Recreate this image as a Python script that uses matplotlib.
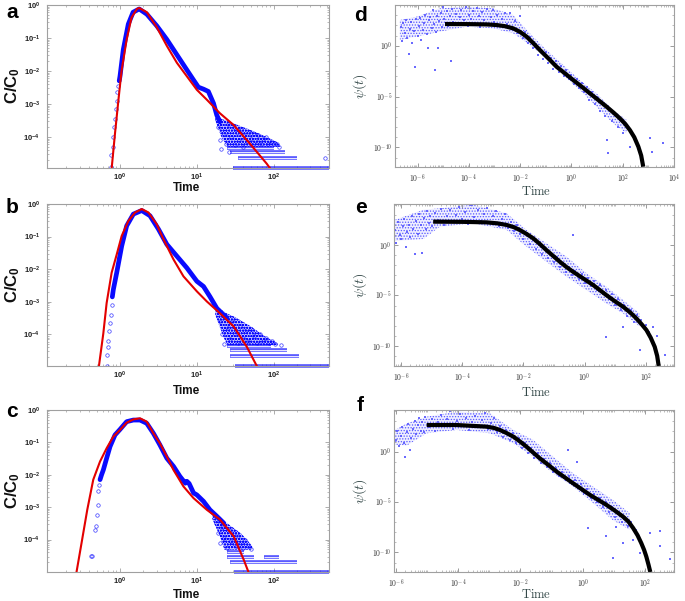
import numpy as np
import matplotlib
matplotlib.use('Agg')
import matplotlib.pyplot as plt
from matplotlib.ticker import LogLocator, NullFormatter

plt.rcParams['font.family'] = ['Liberation Sans', 'DejaVu Sans']
plt.rcParams['mathtext.fontset'] = 'custom'
plt.rcParams['mathtext.rm'] = 'Liberation Sans:bold'
plt.rcParams['mathtext.bf'] = 'Liberation Sans:bold'
plt.rcParams['mathtext.it'] = 'Liberation Sans:bold:italic'
plt.rcParams['hatch.linewidth'] = 0.6

# ---- all values are log10 ----
# panel a
a_fit_t = [-0.108, -0.065, -0.02, 0.02, 0.087, 0.15, 0.22, 0.25, 0.35, 0.48, 0.61, 0.74, 0.87, 1.0, 1.13, 1.30, 1.48, 1.69, 1.91, 1.95]
a_fit_c = [-4.94, -3.89, -2.87, -2.0, -1.04, -0.38, -0.12, -0.09, -0.22, -0.68, -1.24, -1.75, -2.16, -2.57, -2.87, -3.28, -3.64, -4.2, -4.81, -4.94]
a_band_t = [-0.01, 0.0, 0.043, 0.108, 0.17, 0.25, 0.35, 0.478, 0.608, 0.738, 0.868, 0.956, 1.02, 1.087, 1.15, 1.217, 1.26, 1.30]
a_band_c = [-2.3, -2.16, -1.35, -0.58, -0.22, -0.12, -0.28, -0.63, -1.04, -1.5, -1.96, -2.27, -2.49, -2.55, -2.62, -2.98, -3.34, -3.54]
a_circ = [(-0.117, -4.9), (-0.112, -4.55), (-0.095, -4.3), (-0.085, -4.0), (-0.075, -3.7), (-0.065, -3.45),
          (-0.055, -3.15), (-0.045, -2.9), (-0.035, -2.65), (-0.02, -2.45),
          (1.28, -3.7), (1.3, -4.1), (1.32, -4.35), (1.35, -3.9), (1.38, -4.2), (1.4, -3.6), (1.42, -4.45),
          (1.45, -4.0), (1.48, -3.7), (1.5, -4.25), (1.52, -3.85), (1.55, -4.1), (1.58, -3.75), (1.6, -4.3),
          (1.62, -3.95), (1.65, -4.15), (1.68, -3.85), (1.7, -4.05), (1.72, -4.25), (1.75, -3.9), (1.78, -4.15),
          (1.8, -3.95), (1.83, -4.2), (1.86, -4.05), (1.9, -4.0), (1.93, -4.2), (1.97, -4.15), (2.0, -4.22),
          (2.04, -4.2), (2.07, -4.3), (2.67, -4.64)]
a_cloud_t = [1.24, 1.32, 1.40, 1.48, 1.70, 1.91, 2.04, 2.08]
a_cloud_up = [-3.2, -3.45, -3.52, -3.59, -3.79, -4.0, -4.15, -4.25]
a_cloud_lo = [-3.5, -4.0, -4.3, -4.3, -4.3, -4.3, -4.3, -4.3]
a_stripe_k = [1, 2, 3, 4]
a_stripe_t0 = [1.47, 1.54, 1.43, 1.39]
a_stripe_t1 = [2.72, 2.30, 2.15, 2.0]
a_ybot = 1.15e-5

# panel b
b_fit_t = [-0.274, -0.217, -0.174, -0.109, -0.043, 0.022, 0.109, 0.196, 0.283, 0.37, 0.478, 0.565, 0.696, 0.826, 1.0, 1.13, 1.30, 1.48, 1.65, 1.78]
b_fit_c = [-4.97, -3.97, -3.04, -2.11, -1.55, -0.98, -0.52, -0.26, -0.155, -0.26, -0.62, -1.08, -1.70, -2.22, -2.68, -2.99, -3.35, -3.76, -4.38, -4.97]
b_band_t = [-0.1, -0.087, -0.043, 0.022, 0.087, 0.174, 0.283, 0.39, 0.5, 0.61, 0.74, 0.87, 1.0, 1.087, 1.17, 1.26, 1.39]
b_band_c = [-2.85, -2.63, -2.11, -1.29, -0.67, -0.31, -0.2, -0.36, -0.77, -1.24, -1.6, -1.96, -2.37, -2.53, -2.84, -3.2, -3.5]
b_circ = [(-0.17, -4.97), (-0.17, -4.64), (-0.16, -4.4), (-0.15, -4.2), (-0.14, -3.9), (-0.13, -3.66),
          (-0.12, -3.4), (-0.11, -3.1),
          (1.3, -3.6), (1.33, -4.0), (1.36, -4.3), (1.4, -3.8), (1.43, -4.15), (1.46, -3.6), (1.5, -4.0),
          (1.53, -4.25), (1.56, -3.75), (1.6, -4.1), (1.63, -3.9), (1.67, -4.2), (1.7, -3.85), (1.74, -4.05),
          (1.78, -4.25), (1.82, -4.0), (1.86, -4.2), (1.9, -4.1), (1.94, -4.25), (1.98, -4.2), (2.02, -4.3),
          (2.1, -4.33)]
b_cloud_t = [1.24, 1.35, 1.40, 1.48, 1.70, 1.91, 2.0, 2.05]
b_cloud_up = [-3.1, -3.3, -3.37, -3.45, -3.75, -4.1, -4.2, -4.28]
b_cloud_lo = [-3.4, -4.1, -4.33, -4.33, -4.33, -4.33, -4.33, -4.33]
b_stripe_k = [1, 2, 3, 4]
b_stripe_t0 = [1.5, 1.43, 1.43, 1.39]
b_stripe_t1 = [2.72, 2.33, 2.17, 1.96]
b_ybot = 1.07e-5

# panel c
c_fit_t = [-0.565, -0.5, -0.426, -0.348, -0.26, -0.174, -0.087, 0.0, 0.087, 0.174, 0.26, 0.348, 0.435, 0.52, 0.61, 0.696, 0.826, 0.957, 1.13, 1.30, 1.48, 1.61, 1.67]
c_fit_c = [-4.99, -4.10, -3.08, -2.15, -1.59, -1.18, -0.82, -0.615, -0.39, -0.29, -0.256, -0.36, -0.72, -1.03, -1.44, -1.85, -2.36, -2.72, -3.08, -3.38, -3.90, -4.62, -4.99]
c_band_t = [-0.26, -0.24, -0.217, -0.174, -0.13, -0.065, 0.0, 0.087, 0.174, 0.26, 0.348, 0.435, 0.52, 0.61, 0.696, 0.78, 0.85, 0.87, 0.9, 0.957, 1.0, 1.087, 1.17, 1.26, 1.35]
c_band_c = [-2.15, -2.0, -1.85, -1.49, -1.13, -0.77, -0.6, -0.36, -0.31, -0.31, -0.41, -0.72, -1.08, -1.49, -1.74, -2.05, -2.26, -2.2, -2.27, -2.56, -2.62, -2.82, -3.08, -3.28, -3.49]
c_circ = [(-0.375, -4.51), (-0.36, -4.5), (-0.326, -3.69), (-0.317, -3.59), (-0.30, -3.23), (-0.29, -2.92),
          (-0.28, -2.51), (-0.27, -2.3),
          (1.25, -3.5), (1.28, -3.8), (1.3, -4.1), (1.33, -3.6), (1.36, -3.95), (1.39, -4.25), (1.42, -3.7),
          (1.45, -4.05), (1.48, -3.8), (1.51, -4.2), (1.54, -3.9), (1.57, -4.1), (1.6, -4.25), (1.63, -4.0),
          (1.66, -4.2), (1.7, -4.3)]
c_cloud_t = [1.20, 1.30, 1.36, 1.39, 1.57, 1.65, 1.72]
c_cloud_up = [-3.15, -3.33, -3.44, -3.49, -3.8, -4.0, -4.2]
c_cloud_lo = [-3.35, -3.9, -4.31, -4.31, -4.31, -4.31, -4.31]
c_stripe_k = [1, 2, 3, 3, 4]
c_stripe_t0 = [1.48, 1.43, 1.39, 1.87, 1.39]
c_stripe_t1 = [2.72, 2.30, 1.74, 2.07, 1.61]
c_ybot = 1.0e-5

# panel d
d_fit_t = [-4.93, -4.0, -3.3, -2.92, -2.6, -2.27, -2.0, -1.75, -1.5, -1.23, -0.9, -0.58, -0.25, 0.07, 0.4, 0.72, 1.05, 1.37, 1.65, 1.89, 2.1, 2.28, 2.45, 2.61, 2.72, 2.80]
d_fit_p = [2.13, 2.12, 2.09, 2.03, 1.92, 1.70, 1.35, 0.89, 0.28, -0.43, -1.25, -2.07, -2.73, -3.38, -4.03, -4.69, -5.35, -6.0, -6.6, -7.15, -7.7, -8.3, -9.0, -9.93, -10.8, -11.9]
d_band_t = [-6.69, -6.04, -5.13, -4.09, -3.05, -2.27, -1.62, -0.97, -0.32, 0.33, 0.98, 1.63, 2.15]
d_band_up = [2.52, 2.85, 3.67, 3.84, 3.67, 3.0, 1.21, -0.43, -1.9, -3.38, -4.69, -6.33, -7.3]
d_band_lo = [0.56, 0.89, 1.38, 1.87, 1.7, 1.21, 0.07, -1.25, -2.89, -4.36, -6.0, -7.64, -8.62]
d_dots = [(-6.65, 1.8), (-6.6, 0.5), (-6.56, 2.2), (-6.5, 1.2), (-6.45, 2.5), (-6.4, 0.8), (-6.33, -0.8), (-6.3, 1.6),
          (-6.25, 2.3), (-6.2, 0.3), (-6.15, 1.4), (-6.1, -2.06), (-6.05, 2.6), (-6.0, 1.0), (-5.95, 1.9), (-5.9, 2.7),
          (-5.85, 0.6), (-5.8, 1.5), (-5.75, 2.2), (-5.7, 3.0), (-5.65, 1.1), (-5.6, -0.26), (-5.55, 2.5), (-5.5, 2.85),
          (-5.45, 1.7), (-5.4, 3.5), (-5.35, 2.1), (-5.33, -2.39), (-5.3, 1.3), (-5.25, 2.9), (-5.2, -0.26), (-5.15, 2.4),
          (-5.1, 3.2), (-5.05, 1.8), (-5.0, 3.84), (-4.95, 2.6), (-4.87, 3.4), (-4.8, 1.9), (-4.75, 2.9), (-4.68, -1.47),
          (-4.65, 3.6), (-4.6, 2.3), (-4.5, 3.1), (-4.48, 4.0), (-4.4, 2.0), (-4.35, 2.8), (-4.3, 3.5), (-4.2, 2.5),
          (-4.1, 3.84), (-4.05, 1.9), (-4.0, 3.0), (-3.9, 2.6), (-3.85, 3.4), (-3.75, 2.2), (-3.7, 3.7), (-3.6, 2.9),
          (-3.55, 1.8), (-3.5, 3.3), (-3.4, 2.5), (-3.3, 3.6), (-3.25, 2.0), (-3.15, 2.8), (-3.06, 3.5), (-3.0, 2.3),
          (-2.9, 3.0), (-2.8, 1.9), (-2.7, 2.6), (-2.6, 3.2), (-2.5, 2.1), (-2.41, 3.18), (-2.3, 1.6), (-2.2, 2.4),
          (-2.1, 1.2), (-2.0, 2.9), (-1.9, 0.8), (-1.8, 1.3), (-1.7, 0.3), (-1.6, 0.9), (-1.5, -0.2), (-1.4, 0.2),
          (-1.3, -0.9), (-1.2, -0.4), (-1.1, -1.3), (-1.0, -0.6), (-0.9, -1.7), (-0.8, -1.2), (-0.7, -2.3), (-0.6, -1.5),
          (-0.5, -2.6), (-0.4, -2.0), (-0.3, -3.0), (-0.2, -2.4), (-0.1, -3.3), (0.0, -2.9), (0.1, -3.8), (0.2, -3.3),
          (0.3, -4.2), (0.4, -3.7), (0.5, -4.6), (0.6, -4.1), (0.7, -5.3), (0.8, -4.6), (0.9, -5.7), (1.0, -5.0),
          (1.1, -6.4), (1.2, -5.5), (1.3, -6.9), (1.37, -9.28), (1.44, -10.6), (1.5, -6.3), (1.6, -7.4), (1.7, -6.8),
          (1.8, -8.0), (1.9, -7.3), (2.0, -8.6), (2.1, -7.6), (2.28, -9.93), (2.41, -8.79), (3.06, -9.11),
          (3.13, -10.43), (3.58, -9.6)]

# panel e
e_fit_t = [-4.95, -4.0, -3.21, -2.85, -2.55, -2.32, -2.12, -1.9, -1.68, -1.46, -1.25, -1.03, -0.81, -0.6, -0.38, -0.05, 0.28, 0.71, 1.0, 1.26, 1.5, 1.69, 1.86, 2.02, 2.16, 2.29, 2.37, 2.42]
e_fit_p = [2.32, 2.3, 2.25, 2.15, 1.99, 1.78, 1.49, 1.1, 0.66, 0.09, -0.5, -1.08, -1.66, -2.17, -2.65, -3.31, -3.97, -4.97, -5.6, -6.13, -6.72, -7.28, -7.85, -8.44, -9.2, -10.1, -11.0, -12.0]
e_band_t = [-6.2, -5.27, -4.73, -3.64, -2.55, -1.9, -1.25, -0.59, 0.06, 0.71, 1.26, 1.8]
e_band_up = [2.5, 3.5, 3.64, 4.0, 3.15, 1.5, 0.17, -1.16, -2.8, -4.14, -5.46, -6.79]
e_band_lo = [0.4, 0.6, 1.82, 2.15, 1.5, -0.17, -1.66, -3.15, -4.47, -5.8, -6.79, -8.1]
e_dots = [(-6.2, 1.5), (-6.15, 0.2), (-6.1, 2.3), (-6.05, 1.0), (-6.0, 0.6), (-5.95, 1.9), (-5.9, 2.6), (-5.85, -0.2),
          (-5.8, 1.3), (-5.75, 2.0), (-5.7, 0.8), (-5.65, 2.9), (-5.6, 1.6), (-5.55, -0.9), (-5.5, 2.4), (-5.45, 1.1),
          (-5.4, 3.1), (-5.35, 2.0), (-5.3, -0.83), (-5.25, 2.7), (-5.2, 1.6), (-5.15, 3.4), (-5.1, 2.2), (-5.05, 2.9),
          (-5.0, 1.9), (-4.9, 3.2), (-4.8, 2.5), (-4.7, 3.6), (-4.6, 2.0), (-4.5, 2.9), (-4.4, 3.5), (-4.3, 2.3),
          (-4.2, 3.0), (-4.1, 3.8), (-4.0, 2.6), (-3.9, 3.3), (-3.8, 2.1), (-3.7, 4.0), (-3.6, 2.8), (-3.5, 3.5),
          (-3.4, 2.4), (-3.3, 3.1), (-3.2, 3.7), (-3.1, 2.2), (-3.0, 2.9), (-2.9, 3.4), (-2.8, 1.9), (-2.7, 2.6),
          (-2.6, 3.1), (-2.5, 1.7), (-2.4, 2.3), (-2.3, 1.4), (-2.2, 2.0), (-2.1, 1.1), (-2.0, 0.6), (-1.9, 1.2),
          (-1.8, 0.1), (-1.7, 0.5), (-1.6, -0.4), (-1.5, 0.0), (-1.4, -0.9), (-1.3, -0.3), (-1.2, -1.3), (-1.1, -0.8),
          (-1.0, -1.7), (-0.9, -1.2), (-0.8, -2.2), (-0.7, -1.8), (-0.6, -2.7), (-0.5, -2.2), (-0.38, 1.0), (-0.4, -3.0),
          (-0.3, -2.6), (-0.2, -3.4), (-0.1, -2.9), (0.0, -3.8), (0.1, -3.3), (0.2, -4.1), (0.3, -3.6), (0.4, -4.5),
          (0.5, -4.0), (0.6, -4.9), (0.71, -9.1), (0.7, -4.5), (0.8, -5.4), (0.9, -4.9), (1.0, -5.9), (1.1, -5.4),
          (1.2, -6.4), (1.26, -8.1), (1.3, -5.9), (1.4, -7.0), (1.5, -6.4), (1.6, -7.6), (1.7, -6.9), (1.8, -10.4),
          (1.85, -7.4), (2.0, -7.9), (2.1, -8.6), (2.23, -8.1), (2.35, -9.0), (2.62, -10.9)]

# panel f
f_fit_t = [-5.01, -4.05, -3.09, -2.85, -2.66, -2.45, -2.23, -2.02, -1.81, -1.6, -1.38, -1.1, -0.84, -0.57, -0.31, 0.23, 0.76, 1.03, 1.29, 1.47, 1.62, 1.76, 1.88, 1.97, 2.04, 2.11, 2.17]
f_fit_p = [2.64, 2.64, 2.48, 2.35, 2.15, 1.85, 1.49, 1.02, 0.5, -0.07, -0.66, -1.33, -1.98, -2.57, -3.14, -4.29, -5.28, -5.85, -6.44, -6.95, -7.59, -8.3, -9.08, -9.75, -10.4, -11.2, -11.95]
f_band_t = [-6.03, -5.65, -5.01, -4.05, -2.98, -2.23, -1.59, -0.95, -0.31, 0.33, 0.97, 1.51]
f_band_up = [2.15, 2.8, 3.47, 3.96, 3.8, 2.15, 1.16, -0.5, -2.15, -3.47, -4.8, -6.1]
f_band_lo = [0.7, 0.6, 1.82, 2.15, 1.82, 0.83, -0.5, -2.15, -3.47, -5.1, -6.8, -7.76]
f_dots = [(-6.0, 1.2), (-5.95, 2.0), (-5.9, 0.6), (-5.85, 1.6), (-5.8, 2.4), (-5.75, 0.9), (-5.7, -0.5), (-5.65, 1.9),
          (-5.6, 2.7), (-5.55, 0.2), (-5.5, 1.4), (-5.45, 2.2), (-5.4, 3.0), (-5.35, 1.7), (-5.3, 2.6), (-5.25, 3.3),
          (-5.2, 2.0), (-5.15, 2.9), (-5.1, 1.9), (-5.05, 3.4), (-4.95, 2.4), (-4.85, 3.2), (-4.75, 2.0), (-4.65, 2.9),
          (-4.55, 3.6), (-4.45, 2.5), (-4.35, 3.2), (-4.25, 4.0), (-4.15, 2.2), (-4.05, 3.0), (-3.95, 3.7), (-3.85, 2.6),
          (-3.75, 3.3), (-3.65, 2.1), (-3.55, 2.9), (-3.45, 3.5), (-3.35, 2.4), (-3.25, 3.1), (-3.15, 3.8), (-3.05, 2.2),
          (-2.95, 2.8), (-2.85, 3.3), (-2.75, 1.9), (-2.65, 2.5), (-2.55, 1.5), (-2.45, 2.1), (-2.35, 1.2), (-2.25, 1.8),
          (-2.15, 0.9), (-2.05, 1.4), (-1.95, 0.4), (-1.85, 0.9), (-1.75, -0.1), (-1.65, 0.4), (-1.55, -0.6), (-1.45, -0.1),
          (-1.35, -1.1), (-1.25, -0.7), (-1.15, -1.5), (-1.05, -1.1), (-0.95, -2.0), (-0.85, -1.6), (-0.75, -2.4),
          (-0.65, -2.0), (-0.55, -2.8), (-0.47, 0.17), (-0.45, -2.4), (-0.35, -3.2), (-0.25, -2.8), (-0.2, -1.0),
          (-0.15, -3.6), (-0.05, -3.2), (0.05, -4.1), (0.15, -3.7), (0.17, -7.6), (0.25, -4.6), (0.35, -4.2), (0.45, -5.0),
          (0.55, -4.6), (0.65, -5.5), (0.76, -8.4), (0.75, -5.0), (0.85, -6.0), (0.95, -5.5), (0.97, -10.56), (1.05, -6.5),
          (1.08, -7.43), (1.15, -6.0), (1.25, -7.0), (1.29, -9.08), (1.35, -6.6), (1.45, -7.4), (1.55, -7.0), (1.62, -8.75),
          (1.7, -7.8), (1.83, -10.07), (2.15, -8.1), (2.47, -7.9), (2.47, -9.4), (2.79, -10.7)]

W, H = 685, 601
FRAME = '#a0a0a0'
BLUE = '#0a0aff'
DOT = '#5a5aff'
SLATE = '#2f4444'


def p10(v):
    return np.power(10.0, np.asarray(v, dtype=float))


def add_ax(fig, x0, y0, x1, y1):
    return fig.add_axes([x0 / W, 1 - y1 / H, (x1 - x0) / W, (y1 - y0) / H])


def ftext(fig, x, y, s, **kw):
    fig.text(x / W, 1 - y / H, s, **kw)


def frame(ax):
    for s in ax.spines.values():
        s.set_color(FRAME)
        s.set_linewidth(0.8)


def left_panel(ax, fit_t, fit_c, band_t, band_c, circ, cl_t, cl_up, cl_lo, st_k, st_t0, st_t1, ybot):
    ax.set_xscale('log')
    ax.set_yscale('log')
    # dense tail of overlapping circles
    ax.fill_between(p10(cl_t), p10(cl_lo), p10(cl_up), facecolor=(0.35, 0.35, 1.0, 0.35),
                    edgecolor=BLUE, hatch='oooooo', lw=0)
    for k, t0, t1 in zip(st_k, st_t0, st_t1):
        ax.plot(p10([t0, t1]), [k * ybot, k * ybot], color=BLUE, lw=2.6, alpha=0.7,
                solid_capstyle='butt', clip_on=False)
        ax.plot(p10([t0, t1]), [k * ybot, k * ybot], color='white', lw=0.8, alpha=0.85,
                solid_capstyle='butt', clip_on=False)
    ct, cc = zip(*circ)
    ax.plot(p10(ct), p10(cc), ls='none', marker='o', ms=2.5, mfc='none', mec=BLUE, mew=0.5, alpha=0.8)
    ax.plot(p10(band_t), p10(band_c), color=BLUE, lw=3.4, solid_capstyle='round')
    ax.plot(p10(fit_t), p10(fit_c), color='#e30000', lw=1.5)
    ax.set_xlim(10 ** -0.95, 10 ** 2.72)
    ax.set_ylim(ybot, 1)
    ax.set_xticks([1, 10, 100], [r'$\mathbf{10^{0}}$', r'$\mathbf{10^{1}}$', r'$\mathbf{10^{2}}$'])
    ax.set_yticks([1e-4, 1e-3, 1e-2, 1e-1, 1],
                  [r'$\mathbf{10^{-4}}$', r'$\mathbf{10^{-3}}$', r'$\mathbf{10^{-2}}$', r'$\mathbf{10^{-1}}$', r'$\mathbf{10^{0}}$'])
    ax.xaxis.set_minor_locator(LogLocator(base=10, subs=np.arange(2, 10) * 1.0, numticks=50))
    ax.xaxis.set_minor_formatter(NullFormatter())
    ax.yaxis.set_minor_locator(LogLocator(base=10, subs=np.arange(2, 10) * 1.0, numticks=50))
    ax.yaxis.set_minor_formatter(NullFormatter())
    ax.tick_params(which='both', direction='in', top=True, right=True, color=FRAME,
                   labelsize=5.5, labelcolor='#222222')
    ax.tick_params(which='major', length=3, width=0.6)
    ax.tick_params(which='minor', length=1.5, width=0.5)
    ax.tick_params(axis='x', pad=3)
    ax.tick_params(axis='y', pad=5)
    frame(ax)


def right_panel(ax, fit_t, fit_p, band_t, band_up, band_lo, dots, xl, yl, xt):
    ax.set_xscale('log')
    ax.set_yscale('log')
    # dense core of the scatter
    ax.fill_between(p10(band_t), p10(band_lo), p10(band_up), facecolor=(0.5, 0.5, 1.0, 0.12),
                    edgecolor=DOT, hatch='......', lw=0)
    dt, dp = zip(*dots)
    ax.plot(p10(dt), p10(dp), ls='none', marker='s', ms=1.6, mew=0, color=DOT, alpha=0.9)
    ax.plot(p10(fit_t), p10(fit_p), color='black', lw=3.0, solid_capstyle='butt')
    ax.set_xlim(10 ** xl[0], 10 ** xl[1])
    ax.set_ylim(10 ** yl[0], 10 ** yl[1])
    ax.set_xticks(p10(xt), ['$10^{%d}$' % v for v in xt], math_fontfamily='cm')
    ax.set_yticks(p10([-10, -5, 0]), ['$10^{-10}$', '$10^{-5}$', '$10^{0}$'], math_fontfamily='cm')
    ax.xaxis.set_minor_locator(LogLocator(base=10, subs=np.arange(1, 10) * 1.0, numticks=100))
    ax.xaxis.set_minor_formatter(NullFormatter())
    ax.yaxis.set_minor_locator(LogLocator(base=10, subs=(1.0,), numticks=100))
    ax.yaxis.set_minor_formatter(NullFormatter())
    ax.tick_params(which='both', direction='in', top=True, right=True, color='#8a8a8a',
                   labelsize=5.5, labelcolor='#333333')
    ax.tick_params(which='major', length=3, width=0.6)
    ax.tick_params(which='minor', length=1.5, width=0.4)
    ax.tick_params(axis='x', pad=4)
    ax.tick_params(axis='y', pad=2)
    frame(ax)


def main():
    fig = plt.figure(figsize=(W / 100, H / 100), dpi=100)

    ax_a = add_ax(fig, 47, 5, 329, 168)
    left_panel(ax_a, a_fit_t, a_fit_c, a_band_t, a_band_c, a_circ, a_cloud_t, a_cloud_up, a_cloud_lo,
               a_stripe_k, a_stripe_t0, a_stripe_t1, a_ybot)
    ax_b = add_ax(fig, 47, 204, 329, 366)
    left_panel(ax_b, b_fit_t, b_fit_c, b_band_t, b_band_c, b_circ, b_cloud_t, b_cloud_up, b_cloud_lo,
               b_stripe_k, b_stripe_t0, b_stripe_t1, b_ybot)
    ax_c = add_ax(fig, 47, 410, 329, 572)
    left_panel(ax_c, c_fit_t, c_fit_c, c_band_t, c_band_c, c_circ, c_cloud_t, c_cloud_up, c_cloud_lo,
               c_stripe_k, c_stripe_t0, c_stripe_t1, c_ybot)

    ax_d = add_ax(fig, 395, 5, 674, 167)
    right_panel(ax_d, d_fit_t, d_fit_p, d_band_t, d_band_up, d_band_lo, d_dots,
                (-6.88, 4.0), (-11.93, 4.0), [-6, -4, -2, 0, 2, 4])
    ax_e = add_ax(fig, 394, 204, 674, 366)
    right_panel(ax_e, e_fit_t, e_fit_p, e_band_t, e_band_up, e_band_lo, e_dots,
                (-6.23, 2.92), (-12.0, 4.07), [-6, -4, -2, 0, 2])
    ax_f = add_ax(fig, 394, 410, 674, 572)
    right_panel(ax_f, f_fit_t, f_fit_p, f_band_t, f_band_up, f_band_lo, f_dots,
                (-6.06, 2.93), (-11.94, 4.13), [-6, -4, -2, 0, 2])

    # axis titles
    for ymid, ytime in [(86, 188), (285, 391), (491, 595)]:
        ftext(fig, 13, ymid, r'C/C$_\mathbf{0}$', fontsize=12, fontweight='bold', rotation=90,
              ha='center', va='center', color='#111111')
        ftext(fig, 187, ytime, 'Time', fontsize=8.5, fontweight='bold', ha='center', va='center',
              color='#111111')
    for ymid, ytime in [(86, 192), (285, 392), (491, 595)]:
        ftext(fig, 360, ymid, r'$\psi(t)$', fontsize=10, rotation=90, ha='center', va='center',
              color=SLATE, math_fontfamily='cm')
        ftext(fig, 536, ytime, r'$\mathrm{Time}$', fontsize=9, ha='center', va='center',
              color=SLATE, math_fontfamily='cm')

    # panel letters
    for s, x, y in [('a', 12, 18), ('b', 12, 213), ('c', 12, 417),
                    ('d', 361, 21), ('e', 361, 213), ('f', 360, 411)]:
        ftext(fig, x, y, s, fontsize=15, fontweight='bold', ha='center', va='baseline')

    fig.savefig('out.png', dpi=100)


if __name__ == '__main__':
    main()
